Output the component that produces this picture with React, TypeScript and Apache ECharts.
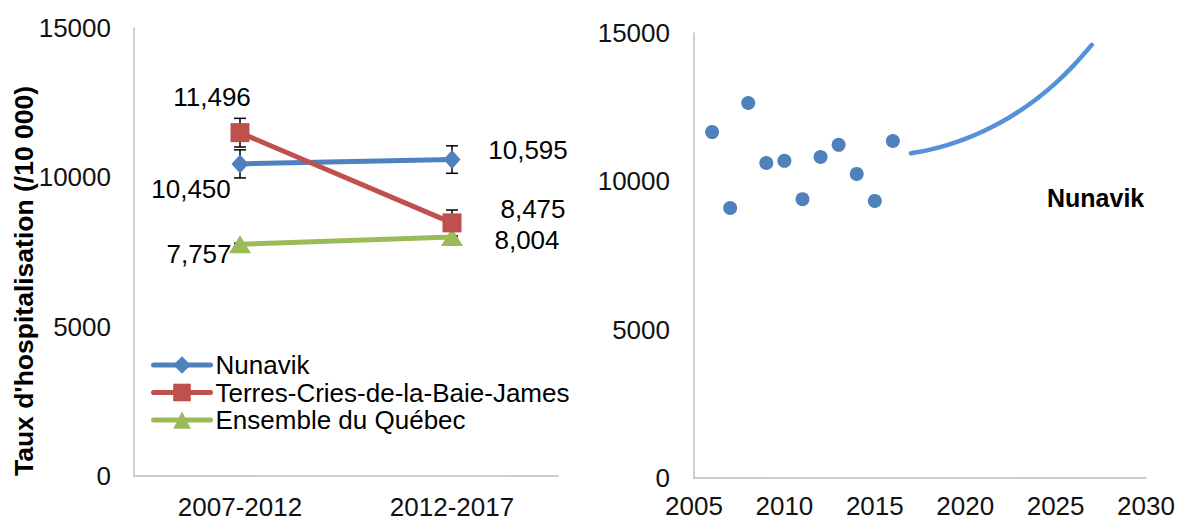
import React, { useEffect, useRef } from "react";
import * as echarts from "echarts";

const periods = ["2007-2012", "2012-2017"];
const nunavik = [10450, 10595];
const nunavikErr = [470, 460];
const cries = [11496, 8475];
const criesErr = [480, 430];
const quebec = [7757, 8004];
const quebecErr = [40, 40];

const seriesNames = ["Nunavik", "Terres-Cries-de-la-Baie-James", "Ensemble du Québec"];

const obsYears = [2006, 2007, 2008, 2009, 2010, 2011, 2012, 2013, 2014, 2015, 2016];
const obsValues = [11660, 9100, 12640, 10620, 10690, 9400, 10820, 11230, 10250, 9340, 11360];

const projYears = [2017, 2018, 2019, 2020, 2021, 2022, 2023, 2024, 2025, 2026, 2027];
const projValues = [10945, 11060, 11220, 11430, 11690, 12000, 12370, 12800, 13310, 13910, 14600];

const leftTicks = { min: 0, max: 15000, interval: 5000 };
const rightXTicks = { min: 2005, max: 2030, interval: 5 };

const FONT = "'Liberation Sans', Arial, sans-serif";
const fmt = (v: number) => v.toLocaleString("en-US");

export default function App() {
  const ref = useRef<HTMLDivElement>(null);
  useEffect(() => {
    if (!ref.current) return;
    const chart = echarts.init(ref.current, null, { renderer: "svg" });

    const axisLine = { show: true, lineStyle: { color: "#BFBFBF", width: 1.5 } };
    const tickLabel = {
      color: "#111",
      fontSize: 26,
      fontFamily: FONT,
      formatter: (v: any) => String(v),
    };
    const xTickLabel = { ...tickLabel, lineHeight: 24 };

    const errData = (vals: number[], errs: number[]) =>
      vals.map((v, i) => [i, v, errs[i]]);

    const errorSeries = (vals: number[], errs: number[]) => ({
      type: "custom",
      xAxisIndex: 0,
      yAxisIndex: 0,
      z: 1,
      silent: true,
      data: errData(vals, errs),
      renderItem: (params: any, api: any) => {
        const x = api.value(0);
        const v = api.value(1);
        const e = api.value(2);
        const top = api.coord([x, v + e]);
        const bot = api.coord([x, v - e]);
        const hw = 6;
        const style = { stroke: "#000", lineWidth: 1.5 };
        return {
          type: "group",
          children: [
            { type: "line", shape: { x1: top[0], y1: top[1], x2: bot[0], y2: bot[1] }, style },
            { type: "line", shape: { x1: top[0] - hw, y1: top[1], x2: top[0] + hw, y2: top[1] }, style },
            { type: "line", shape: { x1: bot[0] - hw, y1: bot[1], x2: bot[0] + hw, y2: bot[1] }, style },
          ],
        };
      },
    });

    const labelOffsets = {
      nunavik: [[-49, 25], [76, -10]],
      cries: [[-28, -36], [81, -14]],
      quebec: [[-41, 10], [75, 3]],
    };

    const lineData = (vals: number[], offs: number[][]) =>
      vals.map((v, i) => ({
        value: v,
        label: { offset: offs[i] },
      }));

    const dataLabel = {
      show: true,
      position: "inside",
      color: "#000",
      fontSize: 26,
      fontFamily: FONT,
      formatter: (p: any) => fmt(p.value),
    };

    const option: any = {
      animation: false,
      textStyle: { fontFamily: FONT },
      grid: [
        { left: 134, top: 28, width: 424, height: 448 },
        { left: 694, top: 33, width: 452, height: 445 },
      ],
      xAxis: [
        {
          gridIndex: 0,
          type: "category",
          data: periods,
          boundaryGap: true,
          axisLine,
          axisTick: { show: false },
          axisLabel: { ...xTickLabel, margin: 19 },
          splitLine: { show: false },
        },
        {
          gridIndex: 1,
          type: "value",
          min: rightXTicks.min,
          max: rightXTicks.max,
          interval: rightXTicks.interval,
          axisLine,
          axisTick: { show: false },
          axisLabel: { ...xTickLabel, margin: 16 },
          splitLine: { show: false },
        },
      ],
      yAxis: [
        {
          gridIndex: 0,
          type: "value",
          min: leftTicks.min,
          max: leftTicks.max,
          interval: leftTicks.interval,
          axisLine,
          axisTick: { show: false },
          axisLabel: { ...tickLabel, margin: 23 },
          splitLine: { show: false },
        },
        {
          gridIndex: 1,
          type: "value",
          min: leftTicks.min,
          max: leftTicks.max,
          interval: leftTicks.interval,
          axisLine,
          axisTick: { show: false },
          axisLabel: { ...tickLabel, margin: 24 },
          splitLine: { show: false },
        },
      ],
      legend: {
        data: seriesNames,
        orient: "vertical",
        left: 151,
        top: 352,
        padding: 0,
        itemWidth: 57,
        itemHeight: 22,
        itemGap: 1.5,
        lineStyle: { width: 5, cap: "round" },
        textStyle: { fontSize: 26, color: "#000", fontFamily: FONT, lineHeight: 26 },
      },
      title: {
        text: "Nunavik",
        left: 1042,
        top: 180,
        textStyle: { fontSize: 25, fontWeight: "bold", color: "#000", fontFamily: FONT },
      },
      graphic: [
        {
          type: "text",
          x: 24,
          y: 281,
          rotation: Math.PI / 2,
          style: {
            text: "Taux d'hospitalisation (/10 000)",
            fontSize: 26.5,
            fontWeight: "bold",
            fontFamily: FONT,
            fill: "#000",
            textAlign: "center",
            textVerticalAlign: "middle",
          },
        },
      ],
      series: [
        errorSeries(nunavik, nunavikErr),
        errorSeries(cries, criesErr),
        errorSeries(quebec, quebecErr),
        {
          name: seriesNames[0],
          type: "line",
          xAxisIndex: 0,
          yAxisIndex: 0,
          data: lineData(nunavik, labelOffsets.nunavik),
          symbol: "diamond",
          symbolSize: [17, 19],
          lineStyle: { color: "#4F81BD", width: 5 },
          itemStyle: { color: "#4F81BD" },
          label: dataLabel,
          z: 3,
        },
        {
          name: seriesNames[1],
          type: "line",
          xAxisIndex: 0,
          yAxisIndex: 0,
          data: lineData(cries, labelOffsets.cries),
          symbol: "rect",
          symbolSize: 19,
          lineStyle: { color: "#C0504D", width: 5 },
          itemStyle: { color: "#C0504D" },
          label: dataLabel,
          z: 4,
        },
        {
          name: seriesNames[2],
          type: "line",
          xAxisIndex: 0,
          yAxisIndex: 0,
          data: lineData(quebec, labelOffsets.quebec),
          symbol: "triangle",
          symbolSize: [22, 18],
          lineStyle: { color: "#9BBB59", width: 5 },
          itemStyle: { color: "#9BBB59" },
          label: dataLabel,
          z: 3,
        },
        {
          name: "obs",
          type: "scatter",
          xAxisIndex: 1,
          yAxisIndex: 1,
          data: obsYears.map((y, i) => [y, obsValues[i]]),
          symbolSize: 14,
          itemStyle: { color: "#4F81BD", opacity: 1 },
        },
        {
          name: "proj",
          type: "line",
          xAxisIndex: 1,
          yAxisIndex: 1,
          data: projYears.map((y, i) => [y, projValues[i]]),
          smooth: 0.3,
          showSymbol: false,
          symbol: "none",
          lineStyle: { color: "#5591D9", width: 4.5, cap: "round" },
        },
      ],
    };

    chart.setOption(option);
    return () => chart.dispose();
  }, []);

  return (
    <div
      ref={ref}
      style={{ position: "absolute", left: 0, top: 0, width: 1178, height: 521, background: "#fff" }}
    />
  );
}
